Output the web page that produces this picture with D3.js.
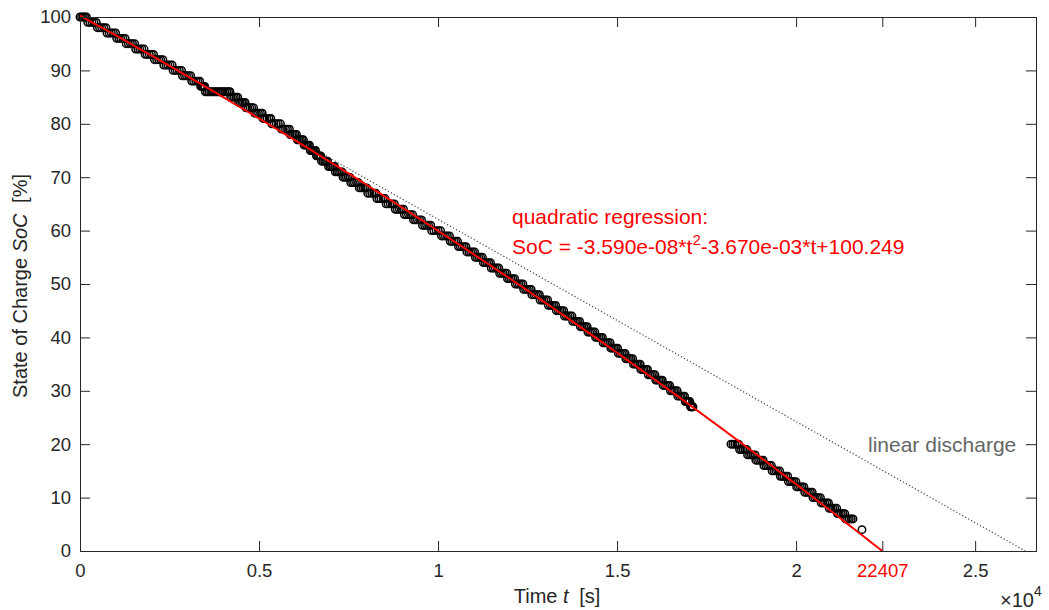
<!DOCTYPE html>
<html>
<head>
<meta charset="utf-8">
<script src="https://cdn.jsdelivr.net/npm/d3@7/dist/d3.min.js"></script>
<style>
  html, body { margin: 0; padding: 0; background: #fff; }
  svg { display: block; font-family: "Liberation Sans", Arial, Helvetica, sans-serif; }
</style>
</head>
<body>
<svg id="chart" width="1049" height="610"></svg>
<script>
// ---------------- data ----------------
// Measured state of charge levels [%] and sample times [s] recorded at each level
const socLevels = [100,99,98,97,96,95,94,93,92,91,90,89,88,87,86,85,84,83,82,81,80,79,78,77,76,75,74,73,72,71,70,69,68,67,66,65,64,63,62,61,60,59,58,57,56,55,54,53,52,51,50,49,48,47,46,45,44,43,42,41,40,39,38,37,36,35,34,33,32,31,30,29,28,27,
                   20,19,18,17,16,15,14,13,12,11,10,9,8,7,6,4];
const sampleTimes = [
  [0,45,90,135,180],[215,275,335,395,455],[485,545,605,665,725],[755,815,875,935,995],
  [1025,1085,1140,1200,1260],[1290,1350,1410,1465,1525],[1555,1615,1670,1730,1790],
  [1820,1875,1935,1995,2055],[2080,2140,2200,2255,2315],[2340,2400,2455,2515,2575],
  [2600,2660,2715,2775,2835],[2860,2920,2975,3035,3090],[3120,3175,3235,3290,3345],
  [3370,3400,3430,3460,3485],
  [3500,3550,3600,3650,3700,3750,3800,3850,3900,3950,4000,4050,4100,4150,4190],
  [4210,4260,4310,4360,4405],[4430,4475,4520,4565,4610],[4635,4690,4745,4800,4850],
  [4875,4930,4985,5040,5090],[5110,5165,5220,5280,5330],[5355,5420,5480,5540,5600],
  [5625,5680,5740,5795,5850],[5870,5915,5960,6005,6045],[6070,6110,6155,6200,6240],
  [6260,6300,6340,6375,6410],[6430,6470,6505,6545,6580],[6600,6630,6660,6695,6725],
  [6745,6790,6835,6875,6915],[6940,6985,7025,7065,7110],[7130,7180,7225,7275,7320],
  [7345,7390,7440,7490,7535],[7560,7615,7665,7720,7775],[7800,7850,7905,7955,8010],
  [8035,8090,8150,8205,8265],[8290,8350,8405,8465,8520],[8550,8605,8665,8720,8780],
  [8805,8860,8920,8975,9035],[9060,9115,9175,9230,9290],[9315,9370,9425,9485,9540],
  [9565,9625,9680,9735,9795],[9820,9880,9945,10005,10070],[10095,10150,10205,10260,10320],
  [10340,10390,10445,10495,10545],[10570,10620,10675,10730,10780],[10805,10860,10910,10965,11020],
  [11040,11090,11140,11190,11240],[11265,11315,11365,11415,11465],[11485,11540,11590,11645,11695],
  [11720,11770,11820,11870,11920],[11940,11990,12040,12090,12140],[12160,12215,12265,12320,12370],
  [12390,12445,12495,12550,12600],[12620,12675,12725,12780,12830],[12850,12905,12955,13010,13060],
  [13080,13135,13185,13235,13285],[13305,13360,13410,13460,13510],[13530,13585,13635,13690,13740],
  [13760,13810,13860,13905,13955],[13975,14020,14070,14120,14165],[14185,14235,14285,14330,14380],
  [14400,14445,14495,14545,14590],[14610,14660,14705,14755,14805],[14825,14870,14920,14965,15015],
  [15035,15080,15130,15180,15225],[15245,15290,15340,15385,15435],[15455,15500,15550,15595,15645],
  [15660,15710,15755,15805,15850],[15870,15920,15965,16015,16060],[16080,16125,16175,16220,16265],
  [16285,16330,16380,16425,16470],[16490,16540,16585,16630,16680],[16695,16745,16790,16840,16885],
  [16905,16940,16970,17000,17030],[17050,17070,17090,17105,17120],
  [18180,18235,18290,18345,18395],[18420,18470,18520,18570,18625],[18645,18700,18750,18800,18855],
  [18875,18925,18980,19030,19080],[19100,19155,19205,19260,19310],[19330,19385,19435,19485,19540],
  [19560,19610,19660,19715,19765],[19785,19840,19890,19940,19995],[20015,20065,20120,20170,20220],
  [20240,20295,20345,20400,20450],[20470,20520,20575,20625,20680],[20700,20750,20800,20855,20905],
  [20925,20980,21030,21080,21135],[21155,21205,21260,21310,21360],[21380,21435,21485,21540,21590],
  [21840]
];
// quadratic regression coefficients: SoC = a*t^2 + b*t + c
const fitCoeffs = [-3.590e-08, -3.670e-03, 100.249];
const fitZeroTime = 22407;
// linear discharge reference line (t, SoC)
const linearT = [0, 26400];
const linearSoC = [100, 0];
// axes
const xTickValues = [0, 5000, 10000, 15000, 20000, 22407, 25000];
const xTickLabels = ["0", "0.5", "1", "1.5", "2", "22407", "2.5"];
const yTickValues = [0,10,20,30,40,50,60,70,80,90,100];
const xDomain = [0, 26700];
const yDomain = [0, 100];

// ---------------- drawing ----------------
const svg = d3.select("#chart");
const L = 80, R = 1036, T = 17, B = 551;
const x = d3.scaleLinear().domain(xDomain).range([L, R]);
const y = d3.scaleLinear().domain(yDomain).range([B, T]);
const axisColor = "#262626";

// linear discharge (dotted)
const lin = linearT.map((t, i) => [t, linearSoC[i]]);
svg.append("path")
  .attr("d", d3.line().x(d => x(d[0])).y(d => y(d[1]))(lin))
  .attr("fill", "none").attr("stroke", "#444").attr("stroke-width", 1.2)
  .attr("stroke-dasharray", "1.2,2.2");

// data points
const pts = [];
socLevels.forEach((s, i) => sampleTimes[i].forEach(t => pts.push([t, s])));
svg.append("g").selectAll("circle").data(pts).join("circle")
  .attr("cx", d => x(d[0])).attr("cy", d => y(d[1])).attr("r", 3.7)
  .attr("fill", "none").attr("stroke", "#000").attr("stroke-width", 1.5);

// regression curve
const fitT = d3.range(0, fitZeroTime, 100).concat([fitZeroTime]);
const fitFn = t => fitCoeffs[0]*t*t + fitCoeffs[1]*t + fitCoeffs[2];
svg.append("path")
  .attr("d", d3.line().x(t => x(t)).y(t => y(Math.max(0, fitFn(t))))(fitT))
  .attr("fill", "none").attr("stroke", "#ff0000").attr("stroke-width", 2);

// axes
const fontSize = 18.5;
const gx = svg.append("g").attr("transform", `translate(0,${B})`)
  .call(d3.axisBottom(x).tickValues(xTickValues).tickSize(-10).tickPadding(13)
    .tickFormat((d, i) => xTickLabels[i]));
const gxt = svg.append("g").attr("transform", `translate(0,${T})`)
  .call(d3.axisTop(x).tickValues(xTickValues).tickSize(-10).tickFormat(""));
const gy = svg.append("g").attr("transform", `translate(${L},0)`)
  .call(d3.axisLeft(y).tickValues(yTickValues).tickSize(-10).tickPadding(9));
const gyr = svg.append("g").attr("transform", `translate(${R},0)`)
  .call(d3.axisRight(y).tickValues(yTickValues).tickSize(-10).tickFormat(""));
[gx, gxt, gy, gyr].forEach(g => {
  g.select(".domain").remove();
  g.selectAll("line").attr("stroke", axisColor).attr("stroke-width", 1);
  g.selectAll("text").attr("fill", axisColor).style("font-size", fontSize + "px")
    .style("font-family", '"Liberation Sans", Arial, sans-serif');
});
gx.selectAll(".tick text").filter((d, i) => xTickLabels[i] === "22407").attr("fill", "#ff0000");

// box
svg.append("rect").attr("x", L).attr("y", T).attr("width", R - L).attr("height", B - T)
  .attr("fill", "none").attr("stroke", axisColor).attr("stroke-width", 1)
  .attr("shape-rendering", "crispEdges");

// axis labels
const xl = svg.append("text").attr("x", 557).attr("y", 603).attr("text-anchor", "middle")
  .attr("fill", axisColor).style("font-size", "20px");
xl.append("tspan").text("Time ");
xl.append("tspan").style("font-style", "italic").text("t");
xl.append("tspan").attr("dx", 5).text(" [s]");

const yl = svg.append("text").attr("transform", "translate(27,286) rotate(-90)")
  .attr("text-anchor", "middle").attr("fill", axisColor).style("font-size", "20px");
yl.append("tspan").text("State of Charge ");
yl.append("tspan").style("font-style", "italic").text("SoC");
yl.append("tspan").attr("dx", 5).text(" [%]");

// x10^4 exponent
const ex = svg.append("text").attr("x", 1000).attr("y", 607).attr("fill", axisColor)
  .style("font-size", "20px");
ex.append("tspan").text("\u00d710");
ex.append("tspan").attr("dy", -11).style("font-size", "14px").text("4");

// annotations
svg.append("text").attr("x", 512).attr("y", 224).attr("fill", "#ff0000")
  .style("font-size", "21px").text("quadratic regression:");
const eq = svg.append("text").attr("x", 512).attr("y", 254).attr("fill", "#ff0000")
  .style("font-size", "21px");
eq.append("tspan").text("SoC = -3.590e-08*t");
eq.append("tspan").attr("dy", -9).style("font-size", "15px").text("2");
eq.append("tspan").attr("dy", 9).text("-3.670e-03*t+100.249");

svg.append("text").attr("x", 868).attr("y", 452).attr("fill", "#666")
  .style("font-size", "21px").text("linear discharge");
</script>
</body>
</html>
